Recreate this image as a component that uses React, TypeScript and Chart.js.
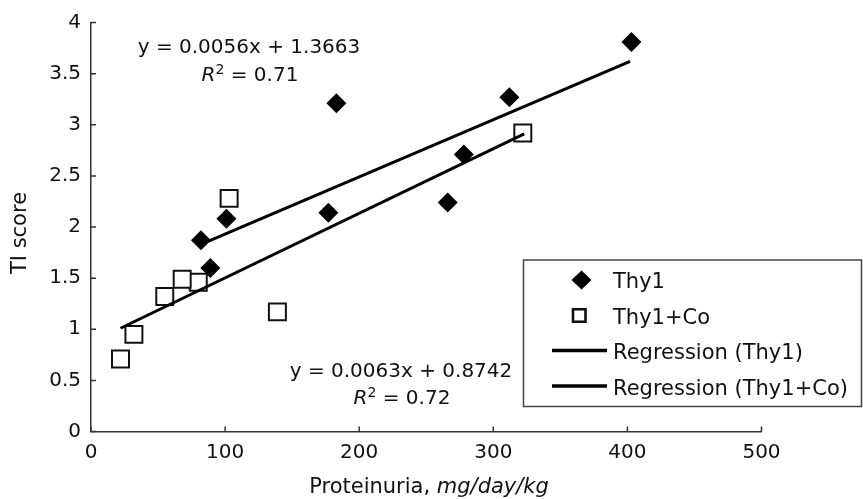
import React, { useEffect, useRef } from 'react';
import { Chart, registerables } from 'chart.js';

Chart.register(...registerables);

// ---- data ----
const thy1X = [82, 89, 101, 177, 183, 266, 278, 312, 403];
const thy1Y = [1.87, 1.6, 2.08, 2.14, 3.21, 2.24, 2.71, 3.27, 3.81];

const thy1CoX = [22, 32, 55, 80, 68, 103, 139, 322];
const thy1CoY = [0.71, 0.95, 1.32, 1.46, 1.49, 2.28, 1.17, 2.92];

const regThy1X = [82, 402];
const regThy1Y = [1.83, 3.62];
const regThy1CoX = [22, 323];
const regThy1CoY = [1.01, 2.91];

const xTicks = [0, 100, 200, 300, 400, 500];
const yTicks = [0, 0.5, 1, 1.5, 2, 2.5, 3, 3.5, 4];

const seriesLabels = ['Thy1', 'Thy1+Co', 'Regression (Thy1)', 'Regression (Thy1+Co)'];
const eqThy1 = 'y = 0.0056x + 1.3663';
const r2Thy1 = '0.71';
const eqThy1Co = 'y = 0.0063x + 0.8742';
const r2Thy1Co = '0.72';
const xTitleParts = ['Proteinuria, ', 'mg/day/kg'];
const yTitle = 'TI score';

const FAMILY = '"DejaVu Sans", "Liberation Sans", sans-serif';
const INK = '#111';

const toPts = (xs: number[], ys: number[]) => xs.map((x, i) => ({ x, y: ys[i] }));

function drawR2(ctx: CanvasRenderingContext2D, value: string, cx: number, baseline: number) {
  const fMain = `20px ${FAMILY}`;
  const fItal = `italic 20px ${FAMILY}`;
  const fSup = `14px ${FAMILY}`;
  ctx.font = fItal;
  const wR = ctx.measureText('R').width;
  ctx.font = fSup;
  const w2 = ctx.measureText('2').width;
  ctx.font = fMain;
  const rest = ' = ' + value;
  const wRest = ctx.measureText(rest).width;
  const total = wR + w2 + wRest;
  let x = cx - total / 2;
  ctx.textAlign = 'left';
  ctx.textBaseline = 'alphabetic';
  ctx.font = fItal;
  ctx.fillText('R', x, baseline);
  x += wR;
  ctx.font = fSup;
  ctx.fillText('2', x, baseline - 7);
  x += w2;
  ctx.font = fMain;
  ctx.fillText(rest, x, baseline);
}

const overlayPlugin = {
  id: 'overlay',
  afterDraw(chart: any) {
    const ctx: CanvasRenderingContext2D = chart.ctx;
    const xs = chart.scales.x;
    const ys = chart.scales.y;
    const area = chart.chartArea;
    ctx.save();

    // inward tick marks
    ctx.strokeStyle = '#333';
    ctx.lineWidth = 1.5;
    ctx.beginPath();
    yTicks.forEach((v) => {
      const py = ys.getPixelForValue(v);
      ctx.moveTo(area.left, py);
      ctx.lineTo(area.left + 5, py);
    });
    xTicks.forEach((v) => {
      const px = xs.getPixelForValue(v);
      ctx.moveTo(px, area.bottom);
      ctx.lineTo(px, area.bottom - 5);
    });
    ctx.stroke();

    // regression equations
    ctx.fillStyle = INK;
    ctx.font = `20px ${FAMILY}`;
    ctx.textAlign = 'center';
    ctx.textBaseline = 'alphabetic';
    ctx.fillText(eqThy1, 249, 53);
    drawR2(ctx, r2Thy1, 250, 81);
    ctx.font = `20px ${FAMILY}`;
    ctx.textAlign = 'center';
    ctx.fillText(eqThy1Co, 401, 377);
    drawR2(ctx, r2Thy1Co, 402, 404);

    // x axis title (mixed style)
    ctx.font = `21px ${FAMILY}`;
    const w1 = ctx.measureText(xTitleParts[0]).width;
    ctx.font = `italic 21px ${FAMILY}`;
    const w2 = ctx.measureText(xTitleParts[1]).width;
    let tx = 429 - (w1 + w2) / 2;
    ctx.textAlign = 'left';
    ctx.font = `21px ${FAMILY}`;
    ctx.fillText(xTitleParts[0], tx, 493);
    tx += w1;
    ctx.font = `italic 21px ${FAMILY}`;
    ctx.fillText(xTitleParts[1], tx, 493);

    // y axis title
    ctx.save();
    ctx.translate(21, 233);
    ctx.rotate(-Math.PI / 2);
    ctx.font = `21px ${FAMILY}`;
    ctx.textAlign = 'center';
    ctx.textBaseline = 'middle';
    ctx.fillText(yTitle, 0, 0);
    ctx.restore();

    // legend
    const box = { x: 523.5, y: 260, w: 338, h: 146.5 };
    ctx.fillStyle = '#fff';
    ctx.fillRect(box.x, box.y, box.w, box.h);
    ctx.strokeStyle = '#444';
    ctx.lineWidth = 1.5;
    ctx.strokeRect(box.x, box.y, box.w, box.h);

    const baselines = [288, 323.5, 359, 394.5];
    const mids = [280, 315.5, 350.5, 386];
    // diamond
    ctx.fillStyle = '#000';
    ctx.beginPath();
    ctx.moveTo(581.5 - 10, mids[0]);
    ctx.lineTo(581.5, mids[0] - 9.5);
    ctx.lineTo(581.5 + 10, mids[0]);
    ctx.lineTo(581.5, mids[0] + 9.5);
    ctx.closePath();
    ctx.fill();
    // square
    ctx.fillStyle = '#fff';
    ctx.fillRect(573, mids[1] - 6.25, 12.5, 12.5);
    ctx.strokeStyle = '#111';
    ctx.lineWidth = 2.6;
    ctx.strokeRect(573, mids[1] - 6.25, 12.5, 12.5);
    // lines
    ctx.lineWidth = 3.5;
    ctx.strokeStyle = '#000';
    [mids[2], mids[3]].forEach((my) => {
      ctx.beginPath();
      ctx.moveTo(552, my);
      ctx.lineTo(607, my);
      ctx.stroke();
    });
    ctx.fillStyle = INK;
    ctx.font = `21px ${FAMILY}`;
    ctx.textAlign = 'left';
    ctx.textBaseline = 'alphabetic';
    seriesLabels.forEach((lbl, i) => ctx.fillText(lbl, 613, baselines[i]));

    ctx.restore();
  },
};

export default function App() {
  const ref = useRef<HTMLCanvasElement | null>(null);

  useEffect(() => {
    if (!ref.current) return;
    const tickFont = { family: FAMILY, size: 20 };
    const chart = new Chart(ref.current, {
      type: 'scatter',
      data: {
        datasets: [
          {
            label: seriesLabels[2],
            data: toPts(regThy1X, regThy1Y),
            showLine: true,
            pointRadius: 0,
            borderColor: '#000',
            borderWidth: 3,
            fill: false,
            order: 0,
          },
          {
            label: seriesLabels[3],
            data: toPts(regThy1CoX, regThy1CoY),
            showLine: true,
            pointRadius: 0,
            borderColor: '#000',
            borderWidth: 3,
            fill: false,
            order: 0,
          },
          {
            label: seriesLabels[0],
            data: toPts(thy1X, thy1Y),
            pointStyle: 'rectRot',
            pointRadius: 10,
            backgroundColor: '#000',
            borderColor: '#000',
            borderWidth: 0,
            order: 1,
          },
          {
            label: seriesLabels[1],
            data: toPts(thy1CoX, thy1CoY),
            pointStyle: 'rect',
            pointRadius: 12,
            backgroundColor: '#fff',
            borderColor: '#111',
            borderWidth: 2,
            order: 2,
          },
        ],
      } as any,
      options: {
        animation: false,
        responsive: true,
        maintainAspectRatio: false,
        layout: { padding: { left: 0, top: 22.5, right: 101.5, bottom: 0 } },
        plugins: {
          legend: { display: false },
          tooltip: { enabled: false },
          title: { display: false },
        },
        scales: {
          x: {
            type: 'linear',
            min: 0,
            max: 500,
            afterBuildTicks: (s: any) => {
              s.ticks = xTicks.map((v) => ({ value: v }));
            },
            afterFit: (s: any) => {
              s.height = 67.5;
            },
            grid: { display: false, drawTicks: false },
            border: { display: true, color: '#333', width: 1.5 },
            ticks: {
              padding: 9,
              color: INK,
              font: tickFont,
              maxRotation: 0,
              autoSkip: false,
              callback: (v: any) => String(v),
            },
          },
          y: {
            type: 'linear',
            min: 0,
            max: 4,
            afterBuildTicks: (s: any) => {
              s.ticks = yTicks.map((v) => ({ value: v }));
            },
            afterFit: (s: any) => {
              s.width = 91;
            },
            grid: { display: false, drawTicks: false },
            border: { display: true, color: '#333', width: 1.5 },
            ticks: {
              padding: 10,
              color: INK,
              font: tickFont,
              autoSkip: false,
              callback: (v: any) => String(v),
            },
          },
        },
      } as any,
      plugins: [overlayPlugin],
    });
    return () => chart.destroy();
  }, []);

  return (
    <div style={{ position: 'fixed', left: 0, top: 0, width: 863, height: 499, background: '#fff' }}>
      <canvas ref={ref} />
    </div>
  );
}
